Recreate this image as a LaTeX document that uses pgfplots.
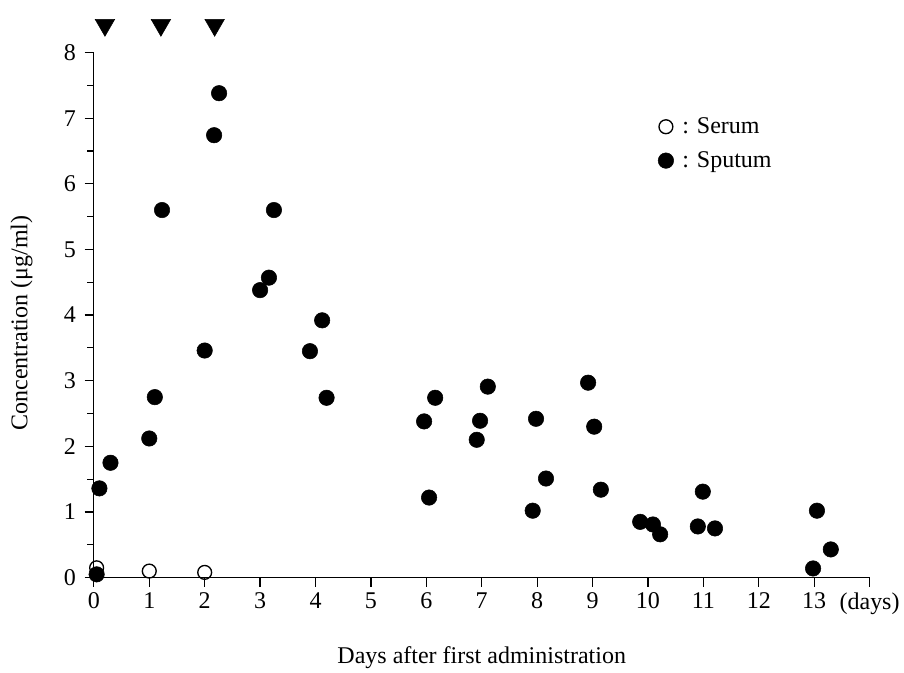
\documentclass[border=0pt]{standalone}
\usepackage{fontspec}
\setmainfont{Liberation Serif}
\usepackage{pgfplots}
\pgfplotsset{compat=1.18}
\begin{document}
\begin{tikzpicture}
\begin{axis}[
    scale only axis,
    width=582pt, height=394pt,
    xmin=0, xmax=14, ymin=0, ymax=8,
    axis lines=left,
    axis line style={-, line width=0.9pt},
    clip=false,
    tick align=outside,
    tick style={black, line width=0.9pt},
    major tick length=7pt,
    minor tick length=5pt,
    xtick={0,1,...,14},
    xticklabels={0,1,2,3,4,5,6,7,8,9,10,11,12,13,(days)},
    ytick={0,1,...,8},
    minor ytick={0.5,1.5,...,7.5},
    /pgf/number format/assume math mode=true,
    tick label style={font=\fontsize{18}{21}\selectfont},
    yticklabel style={xshift=-3pt},
    xticklabel style={yshift=-1pt},
    label style={font=\fontsize{18}{21}\selectfont},
    xlabel={Days after first administration},
    ylabel={Concentration (μg/ml)},
    xlabel style={at={(axis description cs:0.5,-0.152)}, anchor=center},
    ylabel style={at={(axis description cs:-0.093,0.485)}, anchor=center},
    legend style={draw=none, fill=none, at={(axis cs:10.18,7.05)}, anchor=north west,
        font=\fontsize{18}{21}\selectfont, row sep=8pt, inner sep=0pt},
    legend cell align=left,
]
\addplot[only marks, mark=o, mark size=5.2pt, mark options={line width=1pt, fill=white}] coordinates {
(0.05,0.15) (1.0,0.10) (2.0,0.08)
};
\addlegendentry{\ : Serum}
\addplot[only marks, mark=*, mark size=5.8pt, black] coordinates {
(0.05,0.05) (0.1,1.36) (0.3,1.75) (1.0,2.12) (1.1,2.75) (1.23,5.6)
(2.0,3.46) (2.17,6.74) (2.26,7.38) (3.0,4.38) (3.16,4.57) (3.25,5.6)
(3.9,3.45) (4.12,3.92) (4.2,2.74) (5.96,2.38) (6.05,1.22) (6.16,2.74)
(6.91,2.10) (6.97,2.39) (7.11,2.91) (7.92,1.02) (7.98,2.42) (8.16,1.51)
(8.92,2.97) (9.03,2.30) (9.15,1.34) (9.86,0.85) (10.09,0.81) (10.22,0.66)
(10.9,0.78) (10.99,1.31) (11.21,0.75) (12.98,0.14) (13.05,1.02) (13.3,0.43)
};
\addlegendentry{\ : Sputum}
\addplot[only marks, mark=triangle*, mark size=8.5pt, black, mark options={rotate=180}, forget plot] coordinates {
(0.2,8.42) (1.21,8.42) (2.18,8.42)
};
\path (axis cs:0,8.8) (axis description cs:-0.121,0);
\end{axis}
\end{tikzpicture}
\end{document}
